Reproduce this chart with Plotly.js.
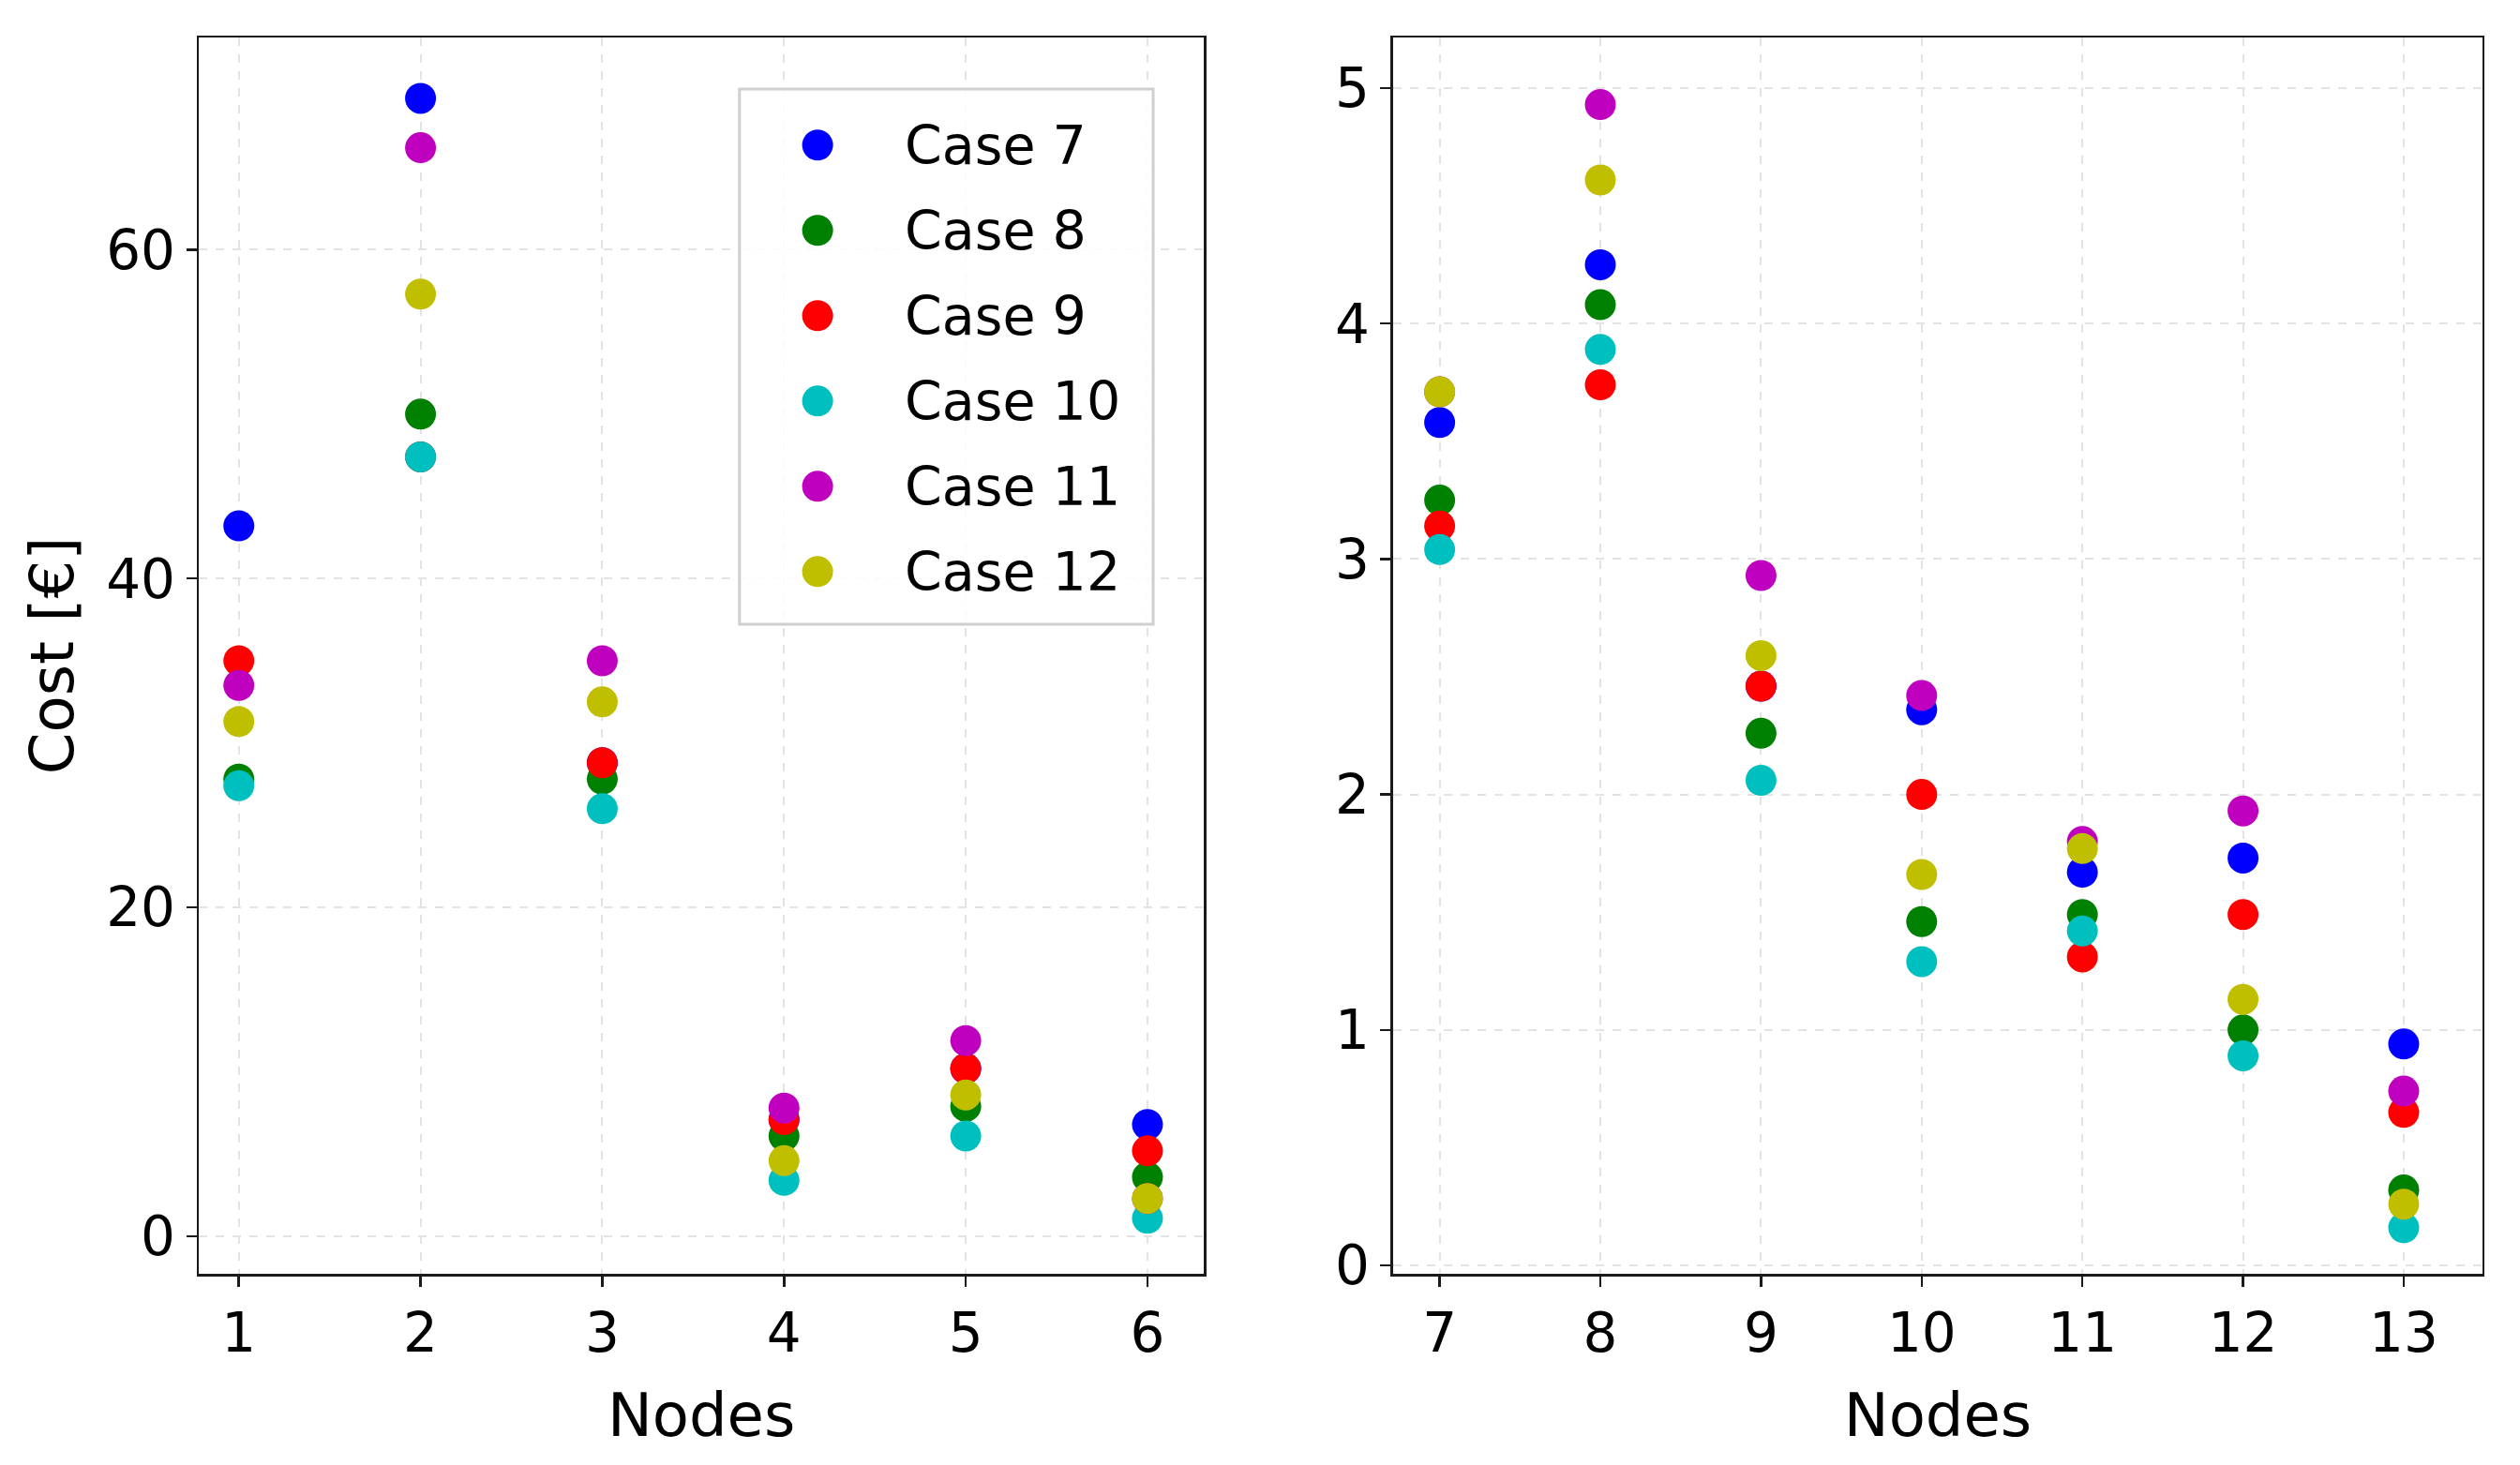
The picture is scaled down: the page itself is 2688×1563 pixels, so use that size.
<!DOCTYPE html>
<html>
<head>
<meta charset="utf-8">
<script src="https://cdn.plot.ly/plotly-3.0.1.min.js"></script>
<style>
    html, body { margin: 0; padding: 0; background: #ffffff; }
    #chart { width: 2688px; height: 1563px; }
</style>
</head>
<body>
<div id="chart"></div>
<script>
// Nodes 1-6 go in the left panel, 7-13 in the right one
var nodes = [1, 2, 3, 4, 5, 6, 7, 8, 9, 10, 11, 12, 13];
var splitAt = 6;

var caseNames = ['Case 7', 'Case 8', 'Case 9', 'Case 10', 'Case 11', 'Case 12'];
var caseColors = ['#0000ff', '#008000', '#ff0000', '#00bfbf', '#bf00bf', '#bfbf00'];

// Cost [€] per node
var case7  = [43.2, 69.2, 28.8, 7.1, 10.2, 6.8, 3.58, 4.25, 2.46, 2.36, 1.67, 1.73, 0.94];
var case8  = [27.8, 50.0, 27.8, 6.1, 7.9, 3.6, 3.25, 4.08, 2.26, 1.46, 1.49, 1.00, 0.32];
var case9  = [35.0, 47.4, 28.8, 7.1, 10.2, 5.2, 3.14, 3.74, 2.46, 2.00, 1.31, 1.49, 0.65];
var case10 = [27.4, 47.4, 26.0, 3.4, 6.1, 1.1, 3.04, 3.89, 2.06, 1.29, 1.42, 0.89, 0.16];
var case11 = [33.5, 66.2, 35.0, 7.8, 11.9, 2.3, 3.71, 4.93, 2.93, 2.42, 1.80, 1.93, 0.74];
var case12 = [31.3, 57.3, 32.5, 4.6, 8.6, 2.3, 3.71, 4.61, 2.59, 1.66, 1.77, 1.13, 0.26];

var caseValues = [case7, case8, case9, case10, case11, case12];

var leftTicks = [0, 20, 40, 60];
var rightTicks = [0, 1, 2, 3, 4, 5];

var fontFamily = 'DejaVu Sans, sans-serif';
var tickSize = 58;
var legendSize = 57;
var titleSize = 64;
var markerSize = 33;

function axisStyle()
{
    return {
        showline: true,
        mirror: true,
        linecolor: '#1a1a1a',
        linewidth: 2.5,
        ticks: 'outside',
        ticklen: 11,
        tickwidth: 2.5,
        tickcolor: '#1a1a1a',
        showgrid: true,
        gridcolor: '#e3e3e3',
        gridwidth: 2,
        griddash: 'dash',
        zeroline: false,
        tickfont: { family: fontFamily, size: tickSize, color: '#000000' },
        fixedrange: true
    };
}

function buildTraces()
{
    var traces = [];
    for (var i = 0; i < caseValues.length; i++) {
        traces.push({
            x: nodes.slice(0, splitAt),
            y: caseValues[i].slice(0, splitAt),
            xaxis: 'x', yaxis: 'y',
            mode: 'markers',
            name: caseNames[i],
            showlegend: false,
            marker: { size: markerSize, color: caseColors[i] }
        });
    }
    for (var i = 0; i < caseValues.length; i++) {
        traces.push({
            x: nodes.slice(splitAt),
            y: caseValues[i].slice(splitAt),
            xaxis: 'x2', yaxis: 'y2',
            mode: 'markers',
            name: caseNames[i],
            showlegend: false,
            marker: { size: markerSize, color: caseColors[i] }
        });
    }
    return traces;
}

// Legend drawn by hand so that its dots are as big as the plotted ones
function buildLegend()
{
    var shapes = [{
        type: 'rect', xref: 'x domain', yref: 'y domain',
        x0: 0.538, x1: 0.9496, y0: 0.5254, y1: 0.9583,
        fillcolor: 'rgba(255,255,255,0.85)',
        line: { color: '#cfcfcf', width: 3 }
    }];
    var annotations = [];
    var firstRow = 0.913, rowStep = 0.069;

    for (var i = 0; i < caseNames.length; i++) {
        var rowY = firstRow - i * rowStep;
        shapes.push({
            type: 'circle', xref: 'x domain', yref: 'y domain',
            xsizemode: 'pixel', ysizemode: 'pixel',
            xanchor: 0.6157, yanchor: rowY,
            x0: -markerSize / 2, x1: markerSize / 2,
            y0: -markerSize / 2, y1: markerSize / 2,
            fillcolor: caseColors[i],
            line: { width: 0 }
        });
        annotations.push({
            xref: 'x domain', yref: 'y domain',
            x: 0.7005, y: rowY,
            xanchor: 'left', yanchor: 'middle',
            text: caseNames[i],
            showarrow: false,
            font: { family: fontFamily, size: legendSize, color: '#000000' }
        });
    }
    return { shapes: shapes, annotations: annotations };
}

window.addEventListener('load', function()
{
    var legend = buildLegend();

    var xLeft = axisStyle();
    xLeft.domain = [0.0789, 0.4777];
    xLeft.range = [0.78, 6.31];
    xLeft.tickvals = nodes.slice(0, splitAt);
    xLeft.anchor = 'y';
    xLeft.title = { text: 'Nodes', font: { family: fontFamily, size: titleSize, color: '#000000' }, standoff: 32 };

    var yLeft = axisStyle();
    yLeft.domain = [0.1305, 0.9744];
    yLeft.range = [-2.28, 72.9];
    yLeft.tickvals = leftTicks;
    yLeft.anchor = 'x';
    yLeft.title = { text: 'Cost [€]', font: { family: fontFamily, size: titleSize, color: '#000000' }, standoff: 14 };

    var xRight = axisStyle();
    xRight.domain = [0.5528, 0.9851];
    xRight.range = [6.71, 13.49];
    xRight.tickvals = nodes.slice(splitAt);
    xRight.anchor = 'y2';
    xRight.title = { text: 'Nodes', font: { family: fontFamily, size: titleSize, color: '#000000' }, standoff: 32 };

    var yRight = axisStyle();
    yRight.domain = [0.1305, 0.9744];
    yRight.range = [-0.036, 5.215];
    yRight.tickvals = rightTicks;
    yRight.anchor = 'x2';

    var layout = {
        width: 2688,
        height: 1563,
        margin: { l: 0, r: 0, t: 0, b: 0 },
        paper_bgcolor: '#ffffff',
        plot_bgcolor: '#ffffff',
        font: { family: fontFamily, color: '#000000' },
        showlegend: false,
        xaxis: xLeft,
        yaxis: yLeft,
        xaxis2: xRight,
        yaxis2: yRight,
        shapes: legend.shapes,
        annotations: legend.annotations
    };

    Plotly.newPlot('chart', buildTraces(), layout, { staticPlot: true });
});
</script>
</body>
</html>
